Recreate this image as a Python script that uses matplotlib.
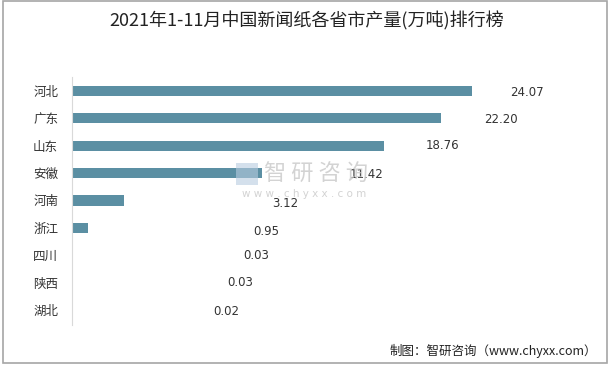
import matplotlib
matplotlib.use("Agg")
import matplotlib.pyplot as plt
from matplotlib.patches import Rectangle

plt.rcParams['font.family'] = ['Noto Sans CJK SC', 'DejaVu Sans']

# 数据
provinces = ['河北', '广东', '山东', '安徽', '河南', '浙江', '四川', '陕西', '湖北']
output = [24.07, 22.20, 18.76, 11.42, 3.12, 0.95, 0.03, 0.03, 0.02]
value_labels = ['24.07', '22.20', '18.76', '11.42', '3.12', '0.95', '0.03', '0.03', '0.02']
# 标签位置（原图中标签并不贴着柱子末端）
label_x = [27.4, 25.8, 22.3, 17.75, 12.8, 11.7, 11.1, 10.1, 9.27]
label_dy = [0.05, 0.05, 0.0, 0.05, 0.12, 0.12, 0.0, 0.0, 0.05]

W, H = 614, 367
fig = plt.figure(figsize=(W / 100, H / 100), dpi=100)
ax = fig.add_axes([72 / W, 1 - 325 / H, 528 / W, 248 / H])

ypos = list(range(len(provinces)))
ax.barh(ypos, output, height=0.37, color='#5B8FA3')

for y, x, lab, dy in zip(ypos, label_x, value_labels, label_dy):
    ax.text(x, y + dy, lab, ha='center', va='center', fontsize=8.5, color='#333333',
            family=['DejaVu Sans'])

ax.set_xlim(0, 528 / 16.62)
ax.set_ylim(8.55, -0.51)
ax.set_yticks(ypos)
ax.set_yticklabels(provinces, fontsize=9, color='#333333')
ax.tick_params(axis='y', length=0, pad=10)
ax.set_xticks([])
for s in ['top', 'right', 'bottom']:
    ax.spines[s].set_visible(False)
ax.spines['left'].set_color('#D9D9D9')

# 水印
fig.patches.append(Rectangle((236 / W, 1 - 185 / H), 22 / W, 22 / H, transform=fig.transFigure,
                             facecolor='#B8CCE0', edgecolor='none', alpha=0.6))
fig.text(316 / W, 1 - 174 / H, '智 研 咨 询', ha='center', va='center', fontsize=16,
         color='#C8C8C8', alpha=0.8)
fig.text(304 / W, 1 - 194 / H, 'w w w . c h y x x . c o m', ha='center', va='center',
         fontsize=7.5, color='#C8C8C8', alpha=0.8, family=['DejaVu Sans'])

# 标题与来源
fig.text(307 / W, 1 - 21 / H, '2021年1-11月中国新闻纸各省市产量(万吨)排行榜', ha='center',
         va='center', fontsize=13, color='#222222')
fig.text(597 / W, 1 - 351 / H, '制图：智研咨询（www.chyxx.com）', ha='right', va='center',
         fontsize=9, color='#222222')

# 外边框
fig.patches.append(Rectangle((3 / W, 1 - 363 / H), 604 / W, 362 / H, transform=fig.transFigure,
                             fill=False, edgecolor='#A6A6A6', linewidth=1.2))

fig.savefig('out.png', dpi=100, facecolor='white')
